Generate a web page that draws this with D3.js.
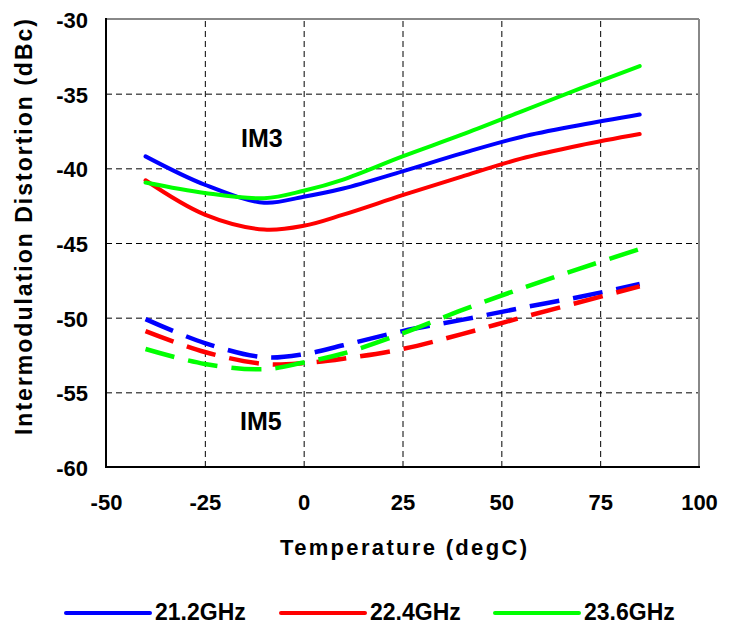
<!DOCTYPE html>
<html>
<head>
<meta charset="utf-8">
<script src="https://cdn.jsdelivr.net/npm/d3@7"></script>
<style>
  html, body { margin: 0; padding: 0; background: #fff; }
  svg { display: block; font-family: Arial, "Liberation Sans", sans-serif; }
</style>
</head>
<body>
<svg id="chart" width="734" height="624"></svg>
<script>
// ---- data ----
const temps = [-40, -25, -10, 0, 10, 25, 40, 55, 70, 85];
const seriesNames = ["21.2GHz", "22.4GHz", "23.6GHz"];
const seriesColors = ["#0000FF", "#FF0000", "#00FF00"];
const im3_212 = [-39.2, -41.1, -42.3, -41.9, -41.35, -40.2, -39.0, -37.9, -37.1, -36.4];
const im3_224 = [-40.8, -43.1, -44.1, -43.85, -43.1, -41.8, -40.55, -39.35, -38.45, -37.7];
const im3_236 = [-40.95, -41.65, -42.0, -41.5, -40.75, -39.2, -37.75, -36.2, -34.65, -33.15];
const im5_212 = [-50.1, -51.7, -52.65, -52.45, -51.85, -50.9, -50.15, -49.35, -48.6, -47.75];
const im5_224 = [-50.9, -52.3, -53.1, -53.05, -52.75, -52.1, -51.1, -50.0, -48.95, -47.9];
const im5_236 = [-52.1, -53.1, -53.45, -53.0, -52.4, -51.05, -49.5, -48.05, -46.7, -45.4];
const xTicks = [-50, -25, 0, 25, 50, 75, 100];
const yTicks = [-30, -35, -40, -45, -50, -55, -60];
const xTitle = "Temperature (degC)";
const yTitle = "Intermodulation Distortion (dBc)";

// ---- layout ----
const L = 106, R = 699, T = 19, B = 467;
const svg = d3.select("#chart");
const x = d3.scaleLinear().domain([-50, 100]).range([L, R]);
const y = d3.scaleLinear().domain([-60, -30]).range([B, T]);
const fmt = d => String(d);

// grid (via axes)
const gx = svg.append("g").attr("transform", `translate(0,${B})`)
  .call(d3.axisBottom(x).tickValues(xTicks.slice(1, -1)).tickSize(-(B - T)).tickFormat(""));
const gy = svg.append("g").attr("transform", `translate(${L},0)`)
  .call(d3.axisLeft(y).tickValues(yTicks.slice(1, -1)).tickSize(-(R - L)).tickFormat(""));
[gx, gy].forEach(g => {
  g.select(".domain").remove();
  g.selectAll(".tick line").attr("stroke", "#000").attr("stroke-width", 1)
    .attr("stroke-dasharray", "6,4");
});

// frame
svg.append("line").attr("x1", L).attr("x2", R).attr("y1", T).attr("y2", T)
  .attr("stroke", "#888").attr("stroke-width", 2);
svg.append("line").attr("x1", R).attr("x2", R).attr("y1", T).attr("y2", B)
  .attr("stroke", "#888").attr("stroke-width", 2);
svg.append("line").attr("x1", L).attr("x2", L).attr("y1", T - 1).attr("y2", B + 1)
  .attr("stroke", "#000").attr("stroke-width", 2);
svg.append("line").attr("x1", L - 1).attr("x2", R + 1).attr("y1", B).attr("y2", B)
  .attr("stroke", "#000").attr("stroke-width", 2);

// tick labels via axes
const ax = svg.append("g").attr("transform", `translate(0,${B})`)
  .call(d3.axisBottom(x).tickValues(xTicks).tickSize(0).tickFormat(fmt));
const ay = svg.append("g").attr("transform", `translate(${L},0)`)
  .call(d3.axisLeft(y).tickValues(yTicks).tickSize(0).tickPadding(18).tickFormat(fmt));
[ax, ay].forEach(g => {
  g.select(".domain").remove();
  g.selectAll("text").attr("font-size", 22).attr("font-weight", "bold")
    .attr("fill", "#000").attr("font-family", "Arial, 'Liberation Sans', sans-serif");
});
ax.selectAll("text").attr("dy", null).attr("y", 43);
ay.selectAll("text").attr("dy", "0.38em");

// series lines
const line = d3.line().x((d, i) => x(temps[i])).y(d => y(d)).curve(d3.curveCatmullRom.alpha(0.5));
const im3 = [im3_212, im3_224, im3_236];
const im5 = [im5_212, im5_224, im5_236];
im3.forEach((s, k) => {
  svg.append("path").attr("d", line(s)).attr("fill", "none")
    .attr("stroke", seriesColors[k]).attr("stroke-width", 4).attr("stroke-linecap", "round");
});
im5.forEach((s, k) => {
  svg.append("path").attr("d", line(s)).attr("fill", "none")
    .attr("stroke", seriesColors[k]).attr("stroke-width", 4.5).attr("stroke-dasharray", "30,14");
});

// annotations
svg.append("text").attr("x", 241).attr("y", 147).attr("font-size", 25).attr("font-weight", "bold").text("IM3");
svg.append("text").attr("x", 240).attr("y", 430).attr("font-size", 25).attr("font-weight", "bold").text("IM5");

// axis titles
svg.append("text").attr("x", 280).attr("y", 555).attr("font-size", 22).attr("font-weight", "bold")
  .attr("textLength", 247).attr("lengthAdjust", "spacing").text(xTitle);
svg.append("text").attr("transform", "translate(32,435) rotate(-90)").attr("x", 0).attr("y", 0)
  .attr("font-size", 23).attr("font-weight", "bold")
  .attr("textLength", 416).attr("lengthAdjust", "spacing").text(yTitle);

// legend
const legX = [66, 281, 495];
seriesNames.forEach((n, k) => {
  const g = svg.append("g");
  g.append("line").attr("x1", legX[k]).attr("x2", legX[k] + 84).attr("y1", 613).attr("y2", 613)
    .attr("stroke", seriesColors[k]).attr("stroke-width", 4).attr("stroke-linecap", "round");
  g.append("text").attr("x", legX[k] + 89).attr("y", 620).attr("font-size", 23).attr("font-weight", "bold").text(n);
});
</script>
</body>
</html>
